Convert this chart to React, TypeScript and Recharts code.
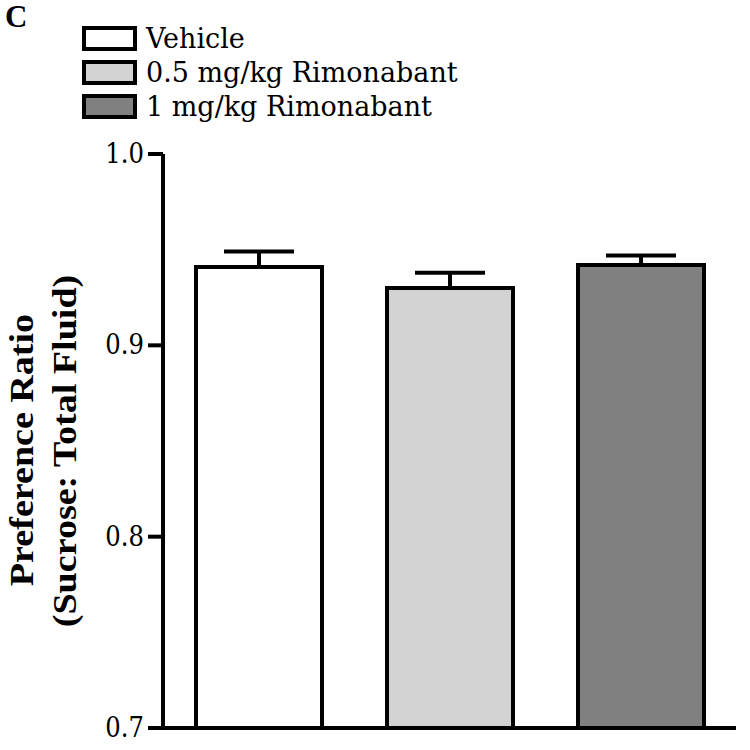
import { BarChart, Bar, Cell, XAxis, YAxis, ErrorBar } from 'recharts'

const groups = ['Vehicle', '0.5 mg/kg Rimonabant', '1 mg/kg Rimonabant']
const ratios = [0.941, 0.930, 0.942]
const sem = [0.008, 0.008, 0.005]
const fills = ['#ffffff', '#d3d3d3', '#808080']
const yTicks = [0.7, 0.8, 0.9, 1.0]

const data = groups.map((g, i) => ({ group: g, ratio: ratios[i], err: [0, sem[i]] }))

const serif = '"DejaVu Serif", serif'
const boldSerif = '"Liberation Serif", "Times New Roman", serif'

// legend + panel letter, drawn over the chart
function LegendBox() {
  return (
    <div style={{ position: 'absolute', left: 0, top: 0, width: 750, height: 130 }}>
      <div style={{ position: 'absolute', left: 5, top: 4, fontFamily: boldSerif, fontWeight: 'bold', fontSize: 31, lineHeight: '26px', color: '#000' }}>C</div>
      {groups.map((g, i) => (
        <div key={g} style={{ position: 'absolute', left: 82, top: 26 + i * 34, display: 'flex', alignItems: 'center', height: 25 }}>
          <div style={{ width: 47, height: 17, border: '4px solid #000', background: fills[i] }} />
          <span style={{ marginLeft: 9, fontFamily: serif, fontSize: 27, color: '#000', lineHeight: '25px' }}>{g}</span>
        </div>
      ))}
    </div>
  )
}

function YTick({ x, y, payload }: any) {
  return (
    <text transform={`translate(${x + 1},${y + 9}) scale(0.9,1)`} textAnchor="end" fontFamily={serif} fontSize={27} fill="#000">
      {Number(payload.value).toFixed(1)}
    </text>
  )
}

function YLabel() {
  return (
    <g fontFamily={boldSerif} fontWeight="bold" fontSize={34} fill="#000">
      <text x={0} y={0} transform="translate(33,450) rotate(-90) scale(1.12,1)" textAnchor="middle">
        Preference Ratio
      </text>
      <text x={0} y={0} transform="translate(76,451) rotate(-90) scale(1.12,1)" textAnchor="middle">
        (Sucrose: Total Fluid)
      </text>
    </g>
  )
}

export default function App() {
  return (
    <div style={{ position: 'absolute', left: 0, top: 0, width: 750, height: 750, background: '#fff' }}>
      <BarChart width={750} height={750} data={data} margin={{ top: 154, right: 14, bottom: 20, left: 0 }} barCategoryGap={0}>
        <XAxis dataKey="group" tick={false} tickLine={false} axisLine={{ stroke: '#000', strokeWidth: 4 }} height={2} />
        <YAxis
          width={163}
          domain={[0.7, 1.0]}
          ticks={yTicks}
          interval={0}
          allowDataOverflow
          tickSize={15}
          tickMargin={5}
          axisLine={{ stroke: '#000', strokeWidth: 4 }}
          tickLine={{ stroke: '#000', strokeWidth: 4 }}
          tick={<YTick />}
          label={<YLabel />}
        />
        <Bar dataKey="ratio" barSize={126} stroke="#000" strokeWidth={4} isAnimationActive={false}>
          {data.map((d, i) => (
            <Cell key={d.group} fill={fills[i]} />
          ))}
          <ErrorBar dataKey="err" width={35} stroke="#000" strokeWidth={4} direction="y" />
        </Bar>
      </BarChart>
      <LegendBox />
    </div>
  )
}
